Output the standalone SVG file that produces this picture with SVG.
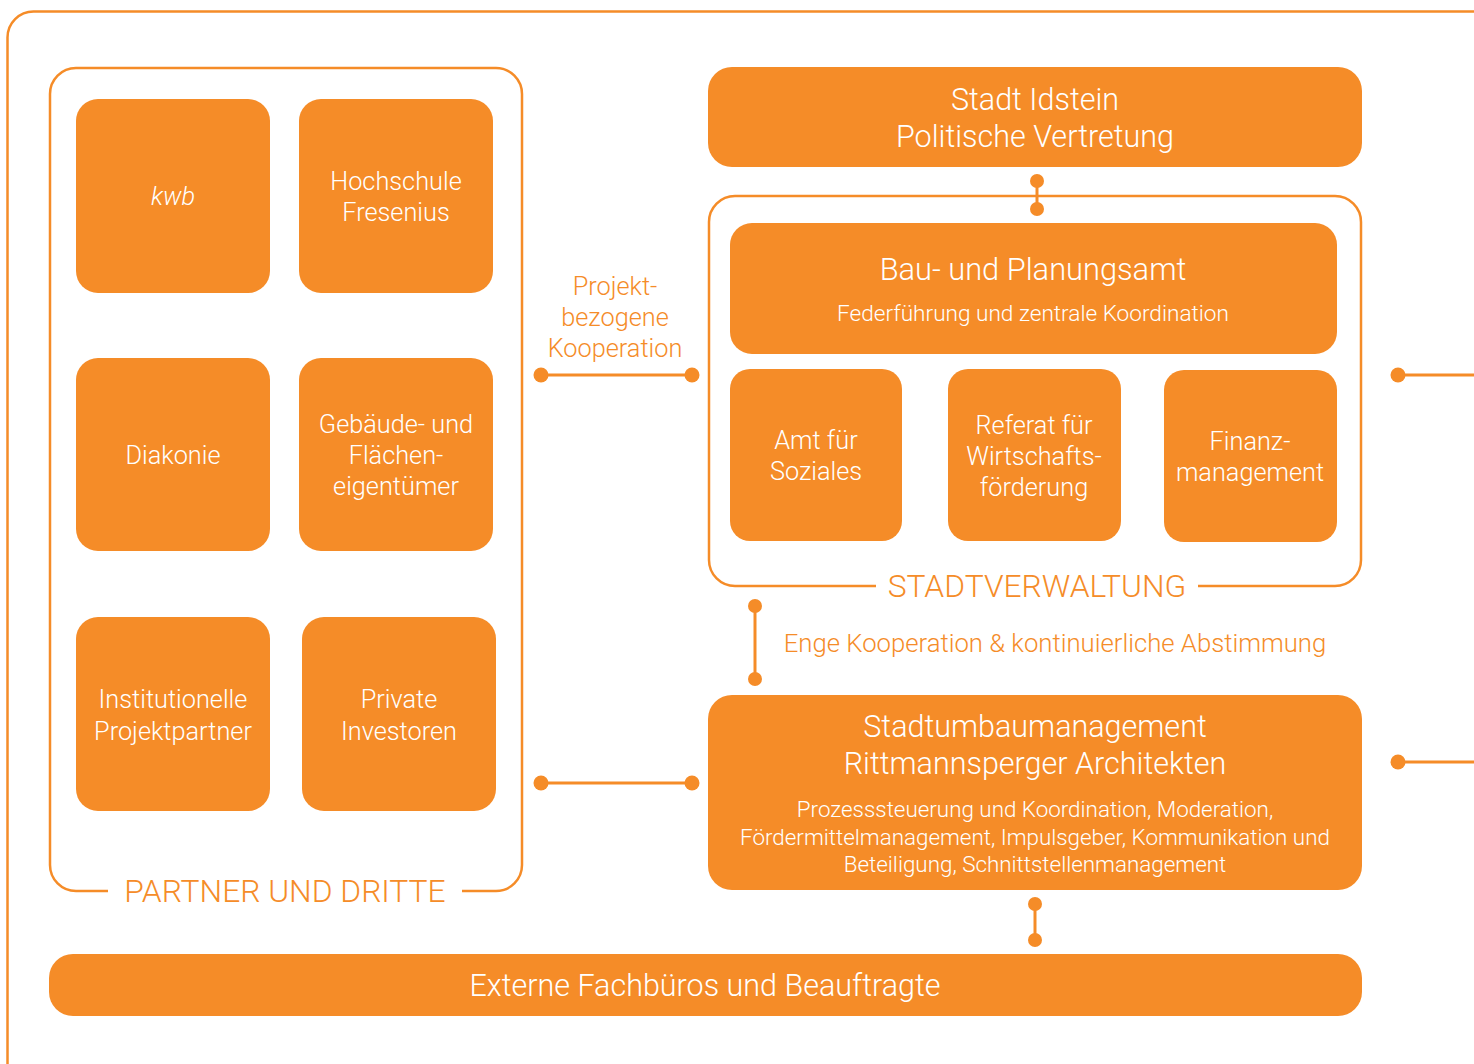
<svg xmlns="http://www.w3.org/2000/svg" width="1474" height="1064" viewBox="0 0 1474 1064">
<style>
.frame{fill:none;stroke:#F58C28;stroke-width:2.5}
.box{fill:#F58C28}
.w{fill:#fff;font-family:Roboto,"Liberation Sans",sans-serif;font-weight:300;text-anchor:middle}
.o{fill:#F58C28;font-family:Roboto,"Liberation Sans",sans-serif;font-weight:300;text-anchor:middle}
.t{font-size:25.3px}
.h{font-size:30.5px}
.ln{stroke:#F58C28;stroke-width:3;fill:none}
.dot{fill:#F58C28}
</style>
<rect width="1474" height="1064" fill="#fff"/>
<rect class="frame" x="7.5" y="11.5" width="1520" height="1080" rx="26"/>

<g id="partner-group">
<path class="frame" d="M108,891 H76 A26,26 0 0 1 50,865 V94 A26,26 0 0 1 76,68 H496 A26,26 0 0 1 522,94 V865 A26,26 0 0 1 496,891 H462"/>
<text class="o" x="285" y="902" font-size="31.8">PARTNER UND DRITTE</text>
</g>

<g id="kwb"><rect class="box" x="76" y="99" width="194" height="194" rx="22"/>
<text class="w t" x="173" y="205" font-style="italic">kwb</text></g>
<g id="hochschule"><rect class="box" x="299" y="99" width="194" height="194" rx="22"/>
<text class="w t" x="396" y="190">Hochschule</text><text class="w t" x="396" y="221">Fresenius</text></g>
<g id="diakonie"><rect class="box" x="76" y="358" width="194" height="193" rx="22"/>
<text class="w t" x="173" y="464">Diakonie</text></g>
<g id="gebaeude"><rect class="box" x="299" y="358" width="194" height="193" rx="22"/>
<text class="w t" x="396" y="433">Gebäude- und</text><text class="w t" x="396" y="464">Flächen-</text><text class="w t" x="396" y="495">eigentümer</text></g>
<g id="institutionelle"><rect class="box" x="76" y="617" width="194" height="194" rx="22"/>
<text class="w t" x="173" y="708">Institutionelle</text><text class="w t" x="173" y="740">Projektpartner</text></g>
<g id="private"><rect class="box" x="302" y="617" width="194" height="194" rx="22"/>
<text class="w t" x="399" y="708">Private</text><text class="w t" x="399" y="740">Investoren</text></g>

<g id="stadt-idstein"><rect class="box" x="708" y="67" width="654" height="100" rx="24"/>
<text class="w h" x="1035" y="110">Stadt Idstein</text><text class="w h" x="1035" y="147">Politische Vertretung</text></g>

<g id="stadtverwaltung">
<path class="frame" d="M876,586 H735 A26,26 0 0 1 709,560 V222 A26,26 0 0 1 735,196 H1335 A26,26 0 0 1 1361,222 V560 A26,26 0 0 1 1335,586 H1198"/>
<text class="o" x="1037" y="597" font-size="31.8">STADTVERWALTUNG</text>
</g>
<g id="bauamt"><rect class="box" x="730" y="223" width="607" height="131" rx="22"/>
<text class="w" x="1033" y="280" font-size="30.8">Bau- und Planungsamt</text><text class="w" x="1033" y="321" font-size="22.6">Federführung und zentrale Koordination</text></g>
<g id="soziales"><rect class="box" x="730" y="369" width="172" height="172" rx="20"/>
<text class="w t" x="816" y="449">Amt für</text><text class="w t" x="816" y="480">Soziales</text></g>
<g id="wirtschaft"><rect class="box" x="948" y="369" width="173" height="172" rx="20"/>
<text class="w t" x="1034" y="434">Referat für</text><text class="w t" x="1034" y="465">Wirtschafts-</text><text class="w t" x="1034" y="496">förderung</text></g>
<g id="finanz"><rect class="box" x="1164" y="370" width="173" height="172" rx="20"/>
<text class="w t" x="1250" y="450">Finanz-</text><text class="w t" x="1250" y="481">management</text></g>

<g id="stadtumbau"><rect class="box" x="708" y="695" width="654" height="195" rx="24"/>
<text class="w h" x="1035" y="737">Stadtumbaumanagement</text><text class="w h" x="1035" y="774">Rittmannsperger Architekten</text>
<text class="w" x="1035" y="817" font-size="22.4">Prozesssteuerung und Koordination, Moderation,</text>
<text class="w" x="1035" y="845" font-size="22.4">Fördermittelmanagement, Impulsgeber, Kommunikation und</text>
<text class="w" x="1035" y="872" font-size="22.4">Beteiligung, Schnittstellenmanagement</text></g>

<g id="externe"><rect class="box" x="49" y="954" width="1313" height="62" rx="24"/>
<text class="w h" x="705" y="996">Externe Fachbüros und Beauftragte</text></g>

<g id="connectors">
<line class="ln" x1="1037" y1="181" x2="1037" y2="209"/><circle class="dot" cx="1037" cy="181" r="7"/><circle class="dot" cx="1037" cy="209" r="7"/>
<line class="ln" x1="541" y1="375" x2="692" y2="375"/><circle class="dot" cx="541" cy="375" r="7.5"/><circle class="dot" cx="692" cy="375" r="7.5"/>
<text class="o t" x="615" y="295">Projekt-</text><text class="o t" x="615" y="326">bezogene</text><text class="o t" x="615" y="357">Kooperation</text>
<line class="ln" x1="541" y1="783" x2="692" y2="783"/><circle class="dot" cx="541" cy="783" r="7.5"/><circle class="dot" cx="692" cy="783" r="7.5"/>
<line class="ln" x1="755" y1="606" x2="755" y2="679"/><circle class="dot" cx="755" cy="606" r="7"/><circle class="dot" cx="755" cy="679" r="7"/>
<text class="o" x="1055" y="652" font-size="25.7">Enge Kooperation &amp; kontinuierliche Abstimmung</text>
<line class="ln" x1="1035" y1="904" x2="1035" y2="940"/><circle class="dot" cx="1035" cy="904" r="7"/><circle class="dot" cx="1035" cy="940" r="7"/>
<line class="ln" x1="1398" y1="375" x2="1480" y2="375"/><circle class="dot" cx="1398" cy="375" r="7.5"/>
<line class="ln" x1="1398" y1="762" x2="1480" y2="762"/><circle class="dot" cx="1398" cy="762" r="7.5"/>
</g>
</svg>
